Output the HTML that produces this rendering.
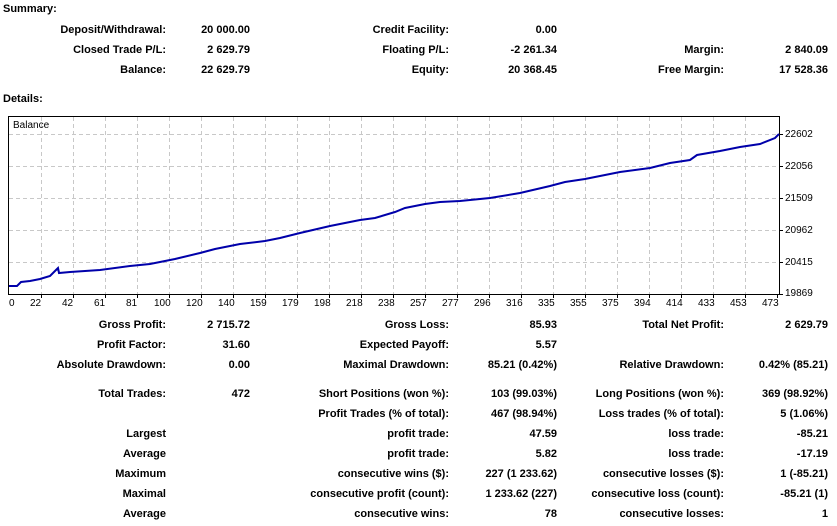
<!DOCTYPE html>
<html><head><meta charset="utf-8"><style>
body{margin:0;width:837px;height:526px;background:#fff;position:relative;overflow:hidden;font-family:"Liberation Sans",Tahoma,sans-serif;font-size:11px;font-weight:bold;color:#000}
.t{position:absolute;white-space:nowrap;line-height:13px}
</style></head><body>
<div class="t" style="left:3px;top:3px">Summary:</div>
<div class="t" style="left:3px;top:93px">Details:</div>

<div class="t" style="right:671px;top:24px">Deposit/Withdrawal:</div>
<div class="t" style="right:587px;top:24px">20 000.00</div>
<div class="t" style="right:388px;top:24px">Credit Facility:</div>
<div class="t" style="right:280px;top:24px">0.00</div>

<div class="t" style="right:671px;top:44px">Closed Trade P/L:</div>
<div class="t" style="right:587px;top:44px">2 629.79</div>
<div class="t" style="right:388px;top:44px">Floating P/L:</div>
<div class="t" style="right:280px;top:44px">-2 261.34</div>
<div class="t" style="right:113px;top:44px">Margin:</div>
<div class="t" style="right:9px;top:44px">2 840.09</div>

<div class="t" style="right:671px;top:64px">Balance:</div>
<div class="t" style="right:587px;top:64px">22 629.79</div>
<div class="t" style="right:388px;top:64px">Equity:</div>
<div class="t" style="right:280px;top:64px">20 368.45</div>
<div class="t" style="right:113px;top:64px">Free Margin:</div>
<div class="t" style="right:9px;top:64px">17 528.36</div>

<svg style="position:absolute;left:0;top:0" width="837" height="526">
<rect x="8.5" y="116.5" width="771" height="178" fill="#fff" stroke="#000"/>
<g stroke="#c8c8c8" stroke-dasharray="4,3" stroke-width="1">
<path d="M9 134.5H779M9 166.5H779M9 198.5H779M9 230.5H779M9 262.5H779"/>
<path d="M41.5 117V294M73.5 117V294M105.5 117V294M137.5 117V294M169.5 117V294M201.5 117V294M233.5 117V294M265.5 117V294M297.5 117V294M329.5 117V294M361.5 117V294M393.5 117V294M425.5 117V294M457.5 117V294M489.5 117V294M521.5 117V294M553.5 117V294M585.5 117V294M617.5 117V294M649.5 117V294M681.5 117V294M713.5 117V294M745.5 117V294"/>
</g>
<g stroke="#000"><path d="M780 134.5h3M780 166.5h3M780 198.5h3M780 230.5h3M780 262.5h3M780 294.5h3"/>
<path d="M41.5 295v3M73.5 295v3M105.5 295v3M137.5 295v3M169.5 295v3M201.5 295v3M233.5 295v3M265.5 295v3M297.5 295v3M329.5 295v3M361.5 295v3M393.5 295v3M425.5 295v3M457.5 295v3M489.5 295v3M521.5 295v3M553.5 295v3M585.5 295v3M617.5 295v3M649.5 295v3M681.5 295v3M713.5 295v3M745.5 295v3M777.5 295v3"/></g>
<polyline fill="none" stroke="#0000aa" stroke-width="2" points="9,286 17,286 21,282 30,281 40,279 50,276 56,270 58,268 59,273 70,272 100,270 130,266 150,264 160,262 175,259 200,253 215,249 240,244 265,241 280,238 300,233 330,226 345,223 360,220 375,218 395,212 405,208 425,204 440,202 460,201 490,198 520,193 550,186 565,182 585,179 600,176 620,172 650,168 670,163 690,160 697,155 720,151 740,147 760,144 775,138 779,134" />
</svg>
<div class="t" style="left:13px;top:119px;font-weight:normal;font-size:10px">Balance</div>

<div style="position:absolute;left:0;top:0;font-weight:normal;font-size:10px">
<div class="t" style="left:785px;top:128px">22602</div>
<div class="t" style="left:785px;top:160px">22056</div>
<div class="t" style="left:785px;top:192px">21509</div>
<div class="t" style="left:785px;top:224px">20962</div>
<div class="t" style="left:785px;top:256px">20415</div>
<div class="t" style="left:785px;top:287px">19869</div>
</div>
<div style="position:absolute;left:0;top:297px;font-weight:normal;font-size:10px">
<div class="t" style="left:9px">0</div>
<div class="t" style="left:30px">22</div><div class="t" style="left:62px">42</div><div class="t" style="left:94px">61</div><div class="t" style="left:126px">81</div>
<div class="t" style="left:154px">100</div><div class="t" style="left:186px">120</div><div class="t" style="left:218px">140</div><div class="t" style="left:250px">159</div>
<div class="t" style="left:282px">179</div><div class="t" style="left:314px">198</div><div class="t" style="left:346px">218</div><div class="t" style="left:378px">238</div>
<div class="t" style="left:410px">257</div><div class="t" style="left:442px">277</div><div class="t" style="left:474px">296</div><div class="t" style="left:506px">316</div>
<div class="t" style="left:538px">335</div><div class="t" style="left:570px">355</div><div class="t" style="left:602px">375</div><div class="t" style="left:634px">394</div>
<div class="t" style="left:666px">414</div><div class="t" style="left:698px">433</div><div class="t" style="left:730px">453</div><div class="t" style="left:762px">473</div>
</div>

<div class="t" style="right:671px;top:319px">Gross Profit:</div>
<div class="t" style="right:587px;top:319px">2 715.72</div>
<div class="t" style="right:388px;top:319px">Gross Loss:</div>
<div class="t" style="right:280px;top:319px">85.93</div>
<div class="t" style="right:113px;top:319px">Total Net Profit:</div>
<div class="t" style="right:9px;top:319px">2 629.79</div>

<div class="t" style="right:671px;top:339px">Profit Factor:</div>
<div class="t" style="right:587px;top:339px">31.60</div>
<div class="t" style="right:388px;top:339px">Expected Payoff:</div>
<div class="t" style="right:280px;top:339px">5.57</div>

<div class="t" style="right:671px;top:359px">Absolute Drawdown:</div>
<div class="t" style="right:587px;top:359px">0.00</div>
<div class="t" style="right:388px;top:359px">Maximal Drawdown:</div>
<div class="t" style="right:280px;top:359px">85.21 (0.42%)</div>
<div class="t" style="right:113px;top:359px">Relative Drawdown:</div>
<div class="t" style="right:9px;top:359px">0.42% (85.21)</div>

<div class="t" style="right:671px;top:388px">Total Trades:</div>
<div class="t" style="right:587px;top:388px">472</div>
<div class="t" style="right:388px;top:388px">Short Positions (won %):</div>
<div class="t" style="right:280px;top:388px">103 (99.03%)</div>
<div class="t" style="right:113px;top:388px">Long Positions (won %):</div>
<div class="t" style="right:9px;top:388px">369 (98.92%)</div>

<div class="t" style="right:388px;top:408px">Profit Trades (% of total):</div>
<div class="t" style="right:280px;top:408px">467 (98.94%)</div>
<div class="t" style="right:113px;top:408px">Loss trades (% of total):</div>
<div class="t" style="right:9px;top:408px">5 (1.06%)</div>

<div class="t" style="right:671px;top:428px">Largest</div>
<div class="t" style="right:388px;top:428px">profit trade:</div>
<div class="t" style="right:280px;top:428px">47.59</div>
<div class="t" style="right:113px;top:428px">loss trade:</div>
<div class="t" style="right:9px;top:428px">-85.21</div>

<div class="t" style="right:671px;top:448px">Average</div>
<div class="t" style="right:388px;top:448px">profit trade:</div>
<div class="t" style="right:280px;top:448px">5.82</div>
<div class="t" style="right:113px;top:448px">loss trade:</div>
<div class="t" style="right:9px;top:448px">-17.19</div>

<div class="t" style="right:671px;top:468px">Maximum</div>
<div class="t" style="right:388px;top:468px">consecutive wins ($):</div>
<div class="t" style="right:280px;top:468px">227 (1 233.62)</div>
<div class="t" style="right:113px;top:468px">consecutive losses ($):</div>
<div class="t" style="right:9px;top:468px">1 (-85.21)</div>

<div class="t" style="right:671px;top:488px">Maximal</div>
<div class="t" style="right:388px;top:488px">consecutive profit (count):</div>
<div class="t" style="right:280px;top:488px">1 233.62 (227)</div>
<div class="t" style="right:113px;top:488px">consecutive loss (count):</div>
<div class="t" style="right:9px;top:488px">-85.21 (1)</div>

<div class="t" style="right:671px;top:508px">Average</div>
<div class="t" style="right:388px;top:508px">consecutive wins:</div>
<div class="t" style="right:280px;top:508px">78</div>
<div class="t" style="right:113px;top:508px">consecutive losses:</div>
<div class="t" style="right:9px;top:508px">1</div>
</body></html>
